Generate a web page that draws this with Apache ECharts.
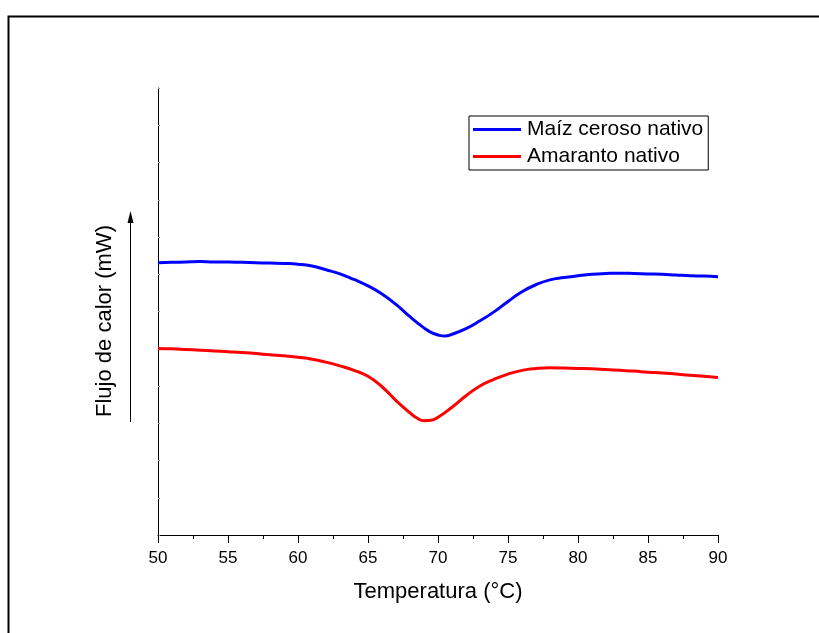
<!DOCTYPE html>
<html>
<head>
<meta charset="utf-8">
<script src="https://cdn.jsdelivr.net/npm/echarts@6/dist/echarts.min.js"></script>
<style>html,body{margin:0;padding:0;background:#fff}#c{width:819px;height:633px}</style>
</head>
<body>
<div id="c"></div>
<script>
var seriesNames = ['Maíz ceroso nativo', 'Amaranto nativo'];
var xTicks = [50, 55, 60, 65, 70, 75, 80, 85, 90];
var maizT = [50, 51, 52, 53, 54, 55, 56, 57, 58, 59, 60, 61, 62, 63, 64, 65, 66, 67, 68, 69, 69.5, 70, 70.5,
             71, 72, 73, 74, 75, 76, 77, 78, 79, 80, 81, 82, 83, 84, 85, 86, 87, 88, 89, 90];
var maizV = [7.31, 7.32, 7.33, 7.34, 7.33, 7.33, 7.32, 7.31, 7.30, 7.29, 7.27, 7.22, 7.12, 7.01, 6.86, 6.69, 6.47, 6.19, 5.86, 5.56, 5.44, 5.37, 5.34,
             5.39, 5.54, 5.75, 5.99, 6.27, 6.53, 6.72, 6.85, 6.91, 6.96, 7.00, 7.02, 7.03, 7.02, 7.01, 7.00, 6.98, 6.96, 6.95, 6.93];
var amarT = [50, 51, 52, 53, 54, 55, 56, 57, 58, 59, 60, 61, 62, 63, 64, 65, 66, 67, 68, 68.5, 69, 69.5, 70,
             71, 72, 73, 74, 75, 76, 77, 78, 79, 80, 81, 82, 83, 84, 85, 86, 87, 88, 89, 90];
var amarV = [5.01, 5.00, 4.98, 4.96, 4.94, 4.92, 4.90, 4.87, 4.84, 4.81, 4.77, 4.72, 4.64, 4.54, 4.42, 4.26, 3.98, 3.61, 3.28, 3.14, 3.07, 3.08, 3.16,
             3.43, 3.74, 4.00, 4.18, 4.32, 4.42, 4.47, 4.49, 4.48, 4.47, 4.46, 4.44, 4.42, 4.40, 4.37, 4.35, 4.32, 4.29, 4.26, 4.23];

function pairs(xs, ys) { return xs.map(function (x, i) { return [x, ys[i]]; }); }

var chart = echarts.init(document.getElementById('c'));
var font = 'Liberation Sans, Arial, sans-serif';
chart.setOption({
  animation: false,
  backgroundColor: '#fff',
  grid: { left: 158, right: 101, top: 88, bottom: 98 },
  legend: {
    orient: 'vertical', left: 469, top: 116,
    data: [{ name: seriesNames[0], icon: 'rect' }, { name: seriesNames[1], icon: 'rect' }],
    borderColor: '#000', borderWidth: 1,
    padding: [3, 5, 3, 4],
    itemGap: 6, itemWidth: 48, itemHeight: 3,
    textStyle: { fontFamily: font, fontSize: 21, color: '#000', padding: [0, 0, 0, 1] }
  },
  xAxis: {
    type: 'value', min: 50, max: 90, interval: 5,
    axisLine: { lineStyle: { color: '#000', width: 1 } },
    axisTick: { inside: false, length: 8, lineStyle: { color: '#000' } },
    minorTick: { show: true, splitNumber: 2, length: 4, lineStyle: { color: '#000' } },
    splitLine: { show: false },
    axisLabel: { fontFamily: font, fontSize: 17, color: '#000', margin: 15,
      formatter: function (v) { return xTicks.indexOf(v) >= 0 ? String(v) : ''; } },
    name: 'Temperatura (°C)', nameLocation: 'middle', nameGap: 46,
    nameTextStyle: { fontFamily: font, fontSize: 22, color: '#000' }
  },
  yAxis: {
    type: 'value', min: 0, max: 12, interval: 1,
    axisLine: { show: true, lineStyle: { color: '#000', width: 1 } },
    axisTick: { show: true, inside: true, length: 2, lineStyle: { color: '#999' } },
    splitLine: { show: false },
    axisLabel: { show: false }
  },
  graphic: [
    { type: 'rect', left: 6, top: 14, shape: { x: 0, y: 0, width: 850, height: 700 },
      style: { fill: 'none', stroke: '#000', lineWidth: 2 }, silent: true },
    { type: 'text', x: 105, y: 321, rotation: Math.PI / 2,
      style: { text: 'Flujo de calor (mW)', fontFamily: font, fontSize: 22, fill: '#000',
        align: 'center', verticalAlign: 'middle' } },
    { type: 'line', shape: { x1: 130.5, y1: 422, x2: 130.5, y2: 222 },
      style: { stroke: '#000', lineWidth: 1 } },
    { type: 'polygon', shape: { points: [[130.5, 211], [127.5, 223], [133.5, 223]] },
      style: { fill: '#000' } }
  ],
  series: [
    { name: seriesNames[0], type: 'line', data: pairs(maizT, maizV), smooth: 0.5,
      symbol: 'none', lineStyle: { color: '#0000ff', width: 3 }, itemStyle: { color: '#0000ff' } },
    { name: seriesNames[1], type: 'line', data: pairs(amarT, amarV), smooth: 0.5,
      symbol: 'none', lineStyle: { color: '#ff0000', width: 3 }, itemStyle: { color: '#ff0000' } }
  ]
});
</script>
</body>
</html>
